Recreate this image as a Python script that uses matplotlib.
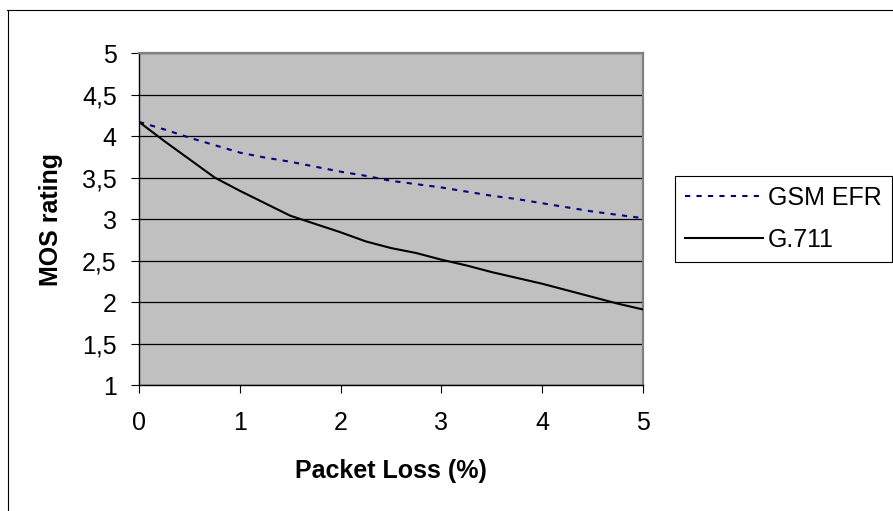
import matplotlib
matplotlib.use('Agg')
import matplotlib.pyplot as plt
from matplotlib.lines import Line2D
from matplotlib.ticker import FuncFormatter

# packet loss (%) and MOS values
packet_loss = [0, 0.25, 0.5, 0.75, 1.0, 1.25, 1.5, 1.75, 2.0, 2.25, 2.5,
               2.75, 3.0, 3.25, 3.5, 3.75, 4.0, 4.25, 4.5, 4.75, 5.0]
gsm_efr = [4.17, 4.08, 3.98, 3.89, 3.80, 3.74, 3.69, 3.63, 3.57, 3.52, 3.46,
           3.42, 3.38, 3.33, 3.28, 3.24, 3.19, 3.14, 3.09, 3.05, 3.01]
g711 = [4.17, 3.94, 3.72, 3.50, 3.34, 3.19, 3.04, 2.94, 2.84, 2.73, 2.65,
        2.59, 2.51, 2.44, 2.36, 2.29, 2.22, 2.14, 2.06, 1.98, 1.91]
series_names = ['GSM EFR', 'G.711']
y_ticks = [1, 1.5, 2, 2.5, 3, 3.5, 4, 4.5, 5]
x_ticks = [0, 1, 2, 3, 4, 5]

plt.rcParams['font.family'] = ['Liberation Sans', 'DejaVu Sans']
plt.rcParams['font.size'] = 18

W, H = 893, 511
fig = plt.figure(figsize=(W / 100, H / 100), dpi=100)
fig.patch.set_facecolor('white')

# plot area in pixels: x 139..643, y 53..385
ax = fig.add_axes([139 / W, 1 - 385 / H, (643 - 139) / W, (385 - 53) / H])
ax.set_facecolor('#C0C0C0')

for y in y_ticks:
    ax.axhline(y, color='black', lw=0.9, zorder=1)

ax.plot(packet_loss, gsm_efr, color='#000080', lw=1.5,
        dashes=(2.5, 3.0), label=series_names[0], zorder=3)
ax.plot(packet_loss, g711, color='black', lw=1.5,
        label=series_names[1], zorder=3)

ax.set_xlim(0, 5)
ax.set_ylim(1, 5)
ax.set_xticks(x_ticks)
ax.set_yticks(y_ticks)
ax.yaxis.set_major_formatter(
    FuncFormatter(lambda v, p: ('%g' % v).replace('.', ',')))
ax.tick_params(direction='out', length=6, width=0.8, color='black',
               labelsize=18, labelcolor='black')
ax.tick_params(axis='y', pad=10)
ax.tick_params(axis='x', pad=13)

for side in ['left', 'bottom']:
    ax.spines[side].set_color('black')
    ax.spines[side].set_linewidth(1.0)
for side in ['top', 'right']:
    ax.spines[side].set_color('#808080')
    ax.spines[side].set_linewidth(1.6)

ax.set_xlabel('Packet Loss (%)', fontsize=18, fontweight='bold')
ax.set_ylabel('MOS rating', fontsize=18, fontweight='bold')
ax.xaxis.set_label_coords(0.5, -0.224)
ax.yaxis.set_label_coords(-0.151, 0.5)

leg = ax.legend(loc='upper left',
                bbox_to_anchor=(675 / W, 1 - 176 / H),
                bbox_transform=fig.transFigure,
                borderaxespad=0, borderpad=0.4, handlelength=3.1,
                handletextpad=0.22, labelspacing=0.72, fontsize=18,
                fancybox=False, framealpha=1, edgecolor='black')
leg.get_frame().set_linewidth(0.8)

# outer chart border (right and bottom edges fall outside the image)
fig.add_artist(Line2D([7.5 / W, 7.5 / W], [0, 1 - 10 / H],
                      transform=fig.transFigure, color='black', lw=0.8))
fig.add_artist(Line2D([7 / W, 1], [1 - 10.5 / H, 1 - 10.5 / H],
                      transform=fig.transFigure, color='black', lw=0.8))

fig.savefig('out.png', dpi=100)
